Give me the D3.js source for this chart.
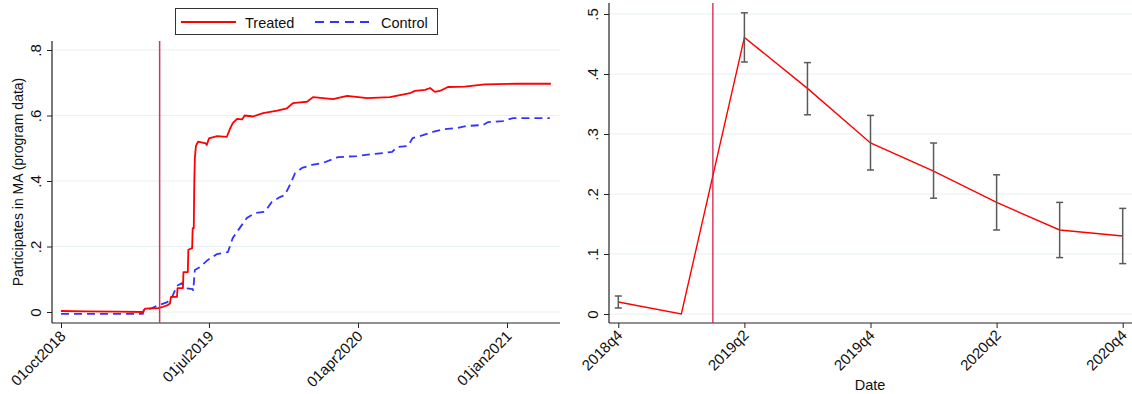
<!DOCTYPE html>
<html>
<head>
<meta charset="utf-8">
<script src="https://cdn.jsdelivr.net/npm/d3@7"></script>
<style>
  html, body { margin: 0; padding: 0; background: #fff; }
  svg { display: block; font-family: "Liberation Sans", Arial, Helvetica, sans-serif; }
</style>
</head>
<body>
<svg id="chart" width="1132" height="394"></svg>
<script>
// ---- Left panel: share participating in MA over time ----
const treatedDates = [
  "2018-10-01","2018-11-15","2019-01-15","2019-03-01","2019-03-05","2019-03-29","2019-04-07",
  "2019-04-15","2019-04-20","2019-04-22","2019-05-03","2019-05-04","2019-05-14","2019-05-15",
  "2019-05-23","2019-05-24","2019-05-31","2019-06-01","2019-06-03","2019-06-04","2019-06-05",
  "2019-06-07","2019-06-11","2019-06-25","2019-06-27","2019-07-01","2019-07-16","2019-08-03",
  "2019-08-09","2019-08-14","2019-08-22","2019-08-31","2019-09-05","2019-09-20","2019-10-09",
  "2019-11-04","2019-11-22","2019-12-03","2019-12-16","2019-12-29","2020-01-09","2020-02-15",
  "2020-03-12","2020-04-18","2020-05-30","2020-07-06","2020-07-15","2020-08-03","2020-08-12",
  "2020-08-21","2020-08-30","2020-09-14","2020-10-15","2020-11-21","2021-01-19","2021-03-23"
];
const treatedValues = [
  0.003, 0.002, 0.001, 0.000, 0.010, 0.012, 0.016,
  0.020, 0.026, 0.046, 0.046, 0.073, 0.073, 0.122,
  0.122, 0.190, 0.195, 0.256, 0.256, 0.400, 0.470,
  0.507, 0.520, 0.515, 0.510, 0.530, 0.537, 0.535,
  0.560, 0.577, 0.590, 0.588, 0.600, 0.597, 0.607,
  0.615, 0.622, 0.638, 0.640, 0.642, 0.656, 0.650,
  0.660, 0.653, 0.656, 0.668, 0.675, 0.678, 0.684,
  0.672, 0.675, 0.687, 0.688, 0.695, 0.697, 0.697
];

const controlDates = [
  "2018-10-01","2019-03-01","2019-03-03","2019-03-18","2019-03-29","2019-04-15","2019-04-24",
  "2019-05-03","2019-05-12","2019-05-18","2019-06-01","2019-06-02","2019-06-05","2019-06-14",
  "2019-06-29","2019-07-16","2019-08-05","2019-08-14","2019-08-24","2019-09-09","2019-09-24",
  "2019-10-12","2019-10-25","2019-11-09","2019-11-18","2019-11-28","2019-12-07","2019-12-20",
  "2020-01-07","2020-01-27","2020-02-24","2020-03-30","2020-04-27","2020-05-17","2020-06-03",
  "2020-06-12","2020-07-02","2020-07-11","2020-07-30","2020-08-17","2020-09-05","2020-10-01",
  "2020-10-19","2020-11-18","2020-11-27","2020-12-24","2021-01-12","2021-03-21"
];
const controlValues = [
  -0.006, -0.006, 0.006, 0.012, 0.020, 0.030, 0.046,
  0.080, 0.088, 0.073, 0.070, 0.065, 0.128, 0.137,
  0.159, 0.177, 0.183, 0.226, 0.250, 0.287, 0.302,
  0.306, 0.336, 0.351, 0.357, 0.390, 0.424, 0.440,
  0.449, 0.455, 0.473, 0.476, 0.482, 0.485, 0.489,
  0.504, 0.507, 0.531, 0.540, 0.550, 0.558, 0.562,
  0.568, 0.571, 0.580, 0.583, 0.592, 0.592
];

const leftTickDates = ["2018-10-01", "2019-07-01", "2020-04-01", "2021-01-01"];
const leftTickLabels = ["01oct2018", "01jul2019", "01apr2020", "01jan2021"];
const leftYTicks = [0, 0.2, 0.4, 0.6, 0.8];
const leftEventDate = "2019-04-01";

// ---- Right panel: quarterly estimates with confidence intervals ----
const quarters = ["2018q4","2019q1","2019q2","2019q3","2019q4","2020q1","2020q2","2020q3","2020q4"];
const estimates = [0.020, 0.000, 0.461, 0.376, 0.285, 0.238, 0.186, 0.140, 0.130];
const ciLow  = [0.010, null, 0.420, 0.332, 0.240, 0.193, 0.140, 0.094, 0.084];
const ciHigh = [0.030, null, 0.502, 0.419, 0.331, 0.285, 0.232, 0.186, 0.176];
const rightTickLabels = ["2018q4", "2019q2", "2019q4", "2020q2", "2020q4"];
const rightYTicks = [0, 0.1, 0.2, 0.3, 0.4, 0.5];
const rightEventPos = 1.5; // halfway between 2019q1 and 2019q2

const parse = d3.utcParse("%Y-%m-%d");
const svg = d3.select("#chart");
const axisColor = "#222";
const gridColor = "#e6eff1";
const tickFont = 15;
const fmt = v => v === 0 ? "0" : d3.format(".1f")(v).replace(/^0/, "");

// ===== Left panel =====
const L = { left: 52, right: 560, top: 41, bottom: 323 };
const xL = d3.scaleUtc()
  .domain([parse("2018-10-01"), parse("2021-01-01")])
  .range([61, 507]);
const yL = d3.scaleLinear().domain([0, 0.8]).range([312, 50]);

const gL = svg.append("g");

// grid
gL.append("g").selectAll("line").data(leftYTicks).join("line")
  .attr("x1", L.left).attr("x2", L.right)
  .attr("y1", d => yL(d)).attr("y2", d => yL(d))
  .attr("stroke", gridColor).attr("stroke-width", 1);

// y axis
const yAxisL = gL.append("g").attr("transform", `translate(${L.left},0)`)
  .call(d3.axisLeft(yL).tickValues(leftYTicks).tickFormat(fmt).tickSize(5).tickSizeOuter(0));
yAxisL.select(".domain").remove();
yAxisL.selectAll(".tick line").attr("stroke", axisColor);
yAxisL.selectAll(".tick text")
  .attr("transform", "rotate(-90)")
  .attr("x", 0).attr("y", -11.5).attr("dy", 0)
  .attr("text-anchor", "middle")
  .attr("font-size", tickFont).attr("fill", "#111");
gL.append("line").attr("x1", L.left).attr("x2", L.left)
  .attr("y1", L.top).attr("y2", L.bottom).attr("stroke", axisColor).attr("stroke-width", 1.2);

// x axis
const xAxisL = gL.append("g").attr("transform", `translate(0,${L.bottom})`)
  .call(d3.axisBottom(xL).tickValues(leftTickDates.map(parse))
    .tickFormat((d, i) => leftTickLabels[i]).tickSize(5).tickSizeOuter(0));
xAxisL.select(".domain").remove();
xAxisL.selectAll(".tick line").attr("stroke", axisColor);
xAxisL.selectAll(".tick text")
  .attr("x", 0).attr("y", 0)
  .attr("transform", "translate(1.5,10.5) rotate(-45)")
  .attr("dy", "0.35em")
  .attr("text-anchor", "end")
  .attr("font-size", tickFont).attr("fill", "#111");
gL.append("line").attr("x1", L.left).attr("x2", L.right)
  .attr("y1", L.bottom).attr("y2", L.bottom).attr("stroke", axisColor).attr("stroke-width", 1.2);

// y title
gL.append("text")
  .attr("transform", `translate(23,${(L.top + L.bottom) / 2}) rotate(-90)`)
  .attr("text-anchor", "middle")
  .attr("font-size", 14).attr("fill", "#111")
  .text("Participates in MA (program data)");

// series
const lineL = (dates, vals) => d3.line()
  .x((d, i) => xL(parse(dates[i])))
  .y((d, i) => yL(vals[i]))(vals);

gL.append("path").attr("d", lineL(controlDates, controlValues))
  .attr("fill", "none").attr("stroke", "#3333ff").attr("stroke-width", 1.8)
  .attr("stroke-dasharray", "8,5");
gL.append("path").attr("d", lineL(treatedDates, treatedValues))
  .attr("fill", "none").attr("stroke", "#ff0000").attr("stroke-width", 1.8)
  .attr("stroke-linejoin", "round");

// event line
gL.append("line")
  .attr("x1", xL(parse(leftEventDate))).attr("x2", xL(parse(leftEventDate)))
  .attr("y1", L.top).attr("y2", L.bottom)
  .attr("stroke", "#c83a5c").attr("stroke-width", 1.5);

// legend
const leg = gL.append("g");
leg.append("rect").attr("x", 175.5).attr("y", 8.5).attr("width", 262).attr("height", 26)
  .attr("fill", "#fff").attr("stroke", "#333").attr("stroke-width", 1);
leg.append("line").attr("x1", 181).attr("x2", 236).attr("y1", 22).attr("y2", 22)
  .attr("stroke", "#ff0000").attr("stroke-width", 1.8);
leg.append("text").attr("x", 245).attr("y", 27.5).attr("font-size", 14.5).attr("fill", "#111").text("Treated");
leg.append("line").attr("x1", 315).attr("x2", 372).attr("y1", 22).attr("y2", 22)
  .attr("stroke", "#3333ff").attr("stroke-width", 1.8).attr("stroke-dasharray", "9,6");
leg.append("text").attr("x", 381).attr("y", 27.5).attr("font-size", 14.5).attr("fill", "#111").text("Control");

// ===== Right panel =====
const R = { left: 609, right: 1132, top: 3, bottom: 323 };
const xR = d3.scaleLinear().domain([0, quarters.length - 1]).range([618.3, 1122.7]);
const yR = d3.scaleLinear().domain([0, 0.5]).range([314, 14]);

const gR = svg.append("g");

gR.append("g").selectAll("line").data(rightYTicks).join("line")
  .attr("x1", R.left).attr("x2", R.right)
  .attr("y1", d => yR(d)).attr("y2", d => yR(d))
  .attr("stroke", gridColor).attr("stroke-width", 1);

const yAxisR = gR.append("g").attr("transform", `translate(${R.left},0)`)
  .call(d3.axisLeft(yR).tickValues(rightYTicks).tickFormat(fmt).tickSize(5).tickSizeOuter(0));
yAxisR.select(".domain").remove();
yAxisR.selectAll(".tick line").attr("stroke", axisColor);
yAxisR.selectAll(".tick text")
  .attr("transform", "rotate(-90)")
  .attr("x", 0).attr("y", -11.5).attr("dy", 0)
  .attr("text-anchor", "middle")
  .attr("font-size", tickFont).attr("fill", "#111");
gR.append("line").attr("x1", R.left).attr("x2", R.left)
  .attr("y1", R.top).attr("y2", R.bottom).attr("stroke", axisColor).attr("stroke-width", 1.2);

const xAxisR = gR.append("g").attr("transform", `translate(0,${R.bottom})`)
  .call(d3.axisBottom(xR).tickValues(rightTickLabels.map(q => quarters.indexOf(q)))
    .tickFormat(i => quarters[i]).tickSize(5).tickSizeOuter(0));
xAxisR.select(".domain").remove();
xAxisR.selectAll(".tick line").attr("stroke", axisColor);
xAxisR.selectAll(".tick text")
  .attr("x", 0).attr("y", 0)
  .attr("transform", "translate(1,9.5) rotate(-45)")
  .attr("dy", "0.35em")
  .attr("text-anchor", "end")
  .attr("font-size", tickFont).attr("fill", "#111");
gR.append("line").attr("x1", R.left).attr("x2", R.right)
  .attr("y1", R.bottom).attr("y2", R.bottom).attr("stroke", axisColor).attr("stroke-width", 1.2);

gR.append("text").attr("x", 870).attr("y", 390)
  .attr("text-anchor", "middle").attr("font-size", 14.5).attr("fill", "#111").text("Date");

// estimate line
gR.append("path")
  .attr("d", d3.line().x((d, i) => xR(i)).y(d => yR(d))(estimates))
  .attr("fill", "none").attr("stroke", "#ff0000").attr("stroke-width", 1.4);

// confidence intervals
const ci = quarters.map((q, i) => ({ i, lo: ciLow[i], hi: ciHigh[i] })).filter(d => d.lo !== null);
const eb = gR.append("g").attr("stroke", "#5a5a5a").attr("stroke-width", 1.5);
eb.selectAll("line.v").data(ci).join("line").attr("class", "v")
  .attr("x1", d => xR(d.i)).attr("x2", d => xR(d.i))
  .attr("y1", d => yR(d.lo)).attr("y2", d => yR(d.hi));
eb.selectAll("line.t").data(ci).join("line").attr("class", "t")
  .attr("x1", d => xR(d.i) - 3.5).attr("x2", d => xR(d.i) + 3.5)
  .attr("y1", d => yR(d.hi)).attr("y2", d => yR(d.hi));
eb.selectAll("line.b").data(ci).join("line").attr("class", "b")
  .attr("x1", d => xR(d.i) - 3.5).attr("x2", d => xR(d.i) + 3.5)
  .attr("y1", d => yR(d.lo)).attr("y2", d => yR(d.lo));

// event line
gR.append("line")
  .attr("x1", xR(rightEventPos)).attr("x2", xR(rightEventPos))
  .attr("y1", R.top).attr("y2", R.bottom)
  .attr("stroke", "#d4204c").attr("stroke-width", 1.3);
</script>
</body>
</html>
